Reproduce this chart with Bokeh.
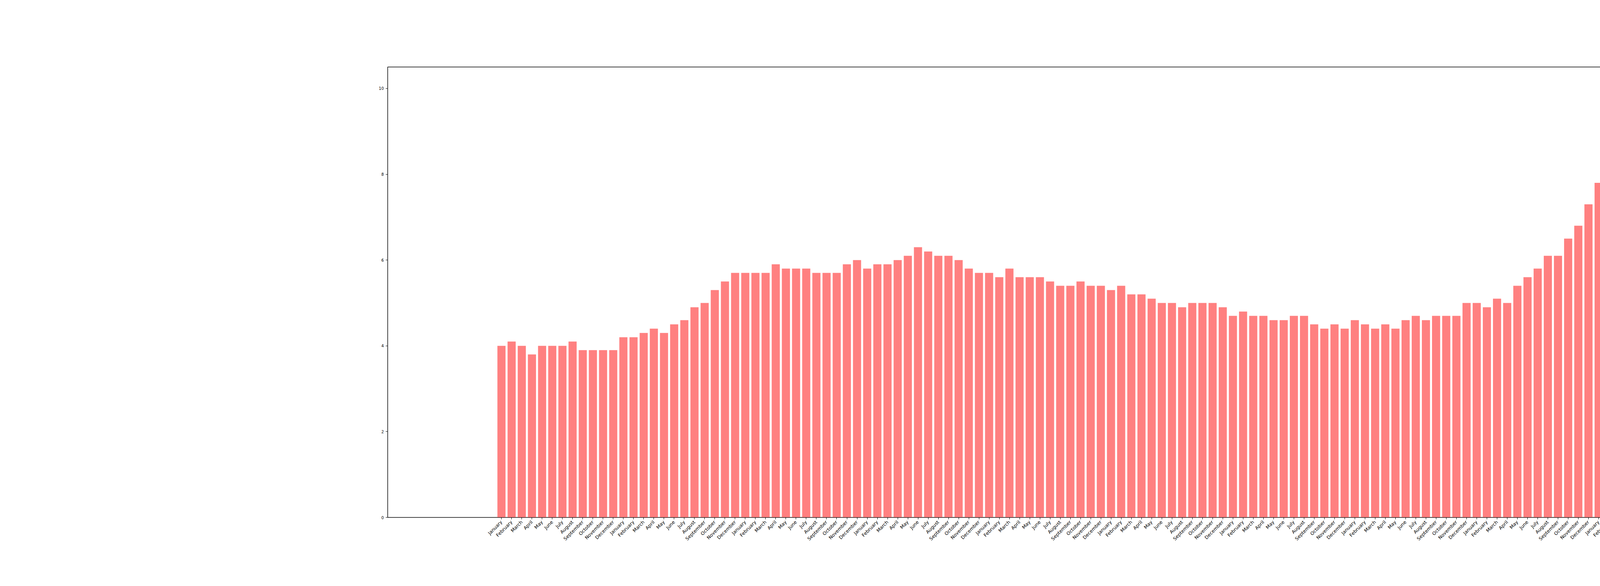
import math
from bokeh.plotting import figure
from bokeh.models import FixedTicker, Range1d
from bokeh.embed import file_html
from bokeh.resources import INLINE

months = ["January", "February", "March", "April", "May", "June", "July",
          "August", "September", "October", "November", "December"]

values = [
    4.0, 4.1, 4.0, 3.8, 4.0, 4.0, 4.0, 4.1, 3.9, 3.9, 3.9, 3.9,
    4.2, 4.2, 4.3, 4.4, 4.3, 4.5, 4.6, 4.9, 5.0, 5.3, 5.5, 5.7,
    5.7, 5.7, 5.7, 5.9, 5.8, 5.8, 5.8, 5.7, 5.7, 5.7, 5.9, 6.0,
    5.8, 5.9, 5.9, 6.0, 6.1, 6.3, 6.2, 6.1, 6.1, 6.0, 5.8, 5.7,
    5.7, 5.6, 5.8, 5.6, 5.6, 5.6, 5.5, 5.4, 5.4, 5.5, 5.4, 5.4,
    5.3, 5.4, 5.2, 5.2, 5.1, 5.0, 5.0, 4.9, 5.0, 5.0, 5.0, 4.9,
    4.7, 4.8, 4.7, 4.7, 4.6, 4.6, 4.7, 4.7, 4.5, 4.4, 4.5, 4.4,
    4.6, 4.5, 4.4, 4.5, 4.4, 4.6, 4.7, 4.6, 4.7, 4.7, 4.7, 5.0,
    5.0, 4.9, 5.1, 5.0, 5.4, 5.6, 5.8, 6.1, 6.1, 6.5, 6.8, 7.3,
    7.8, 8.3, 8.7, 9.0, 9.4, 9.5, 9.5, 9.6, 9.8, 10.0, 9.9, 9.9,
    9.8, 9.8, 9.9, 9.9, 9.6, 9.4, 9.4, 9.5, 9.5, 9.4, 9.8, 9.3,
    9.1, 9.0, 9.0, 9.1, 9.0, 9.1, 9.0, 9.0, 9.0, 8.8, 8.6, 8.5,
    8.3, 8.3, 8.2, 8.2, 8.2, 8.2, 8.2, 8.1, 7.8, 7.8, 7.7, 7.9,
    8.0, 7.7, 7.5, 7.6, 7.5, 7.5, 7.3, 7.2, 7.2, 7.2, 6.9, 6.7,
    6.6, 6.7, 6.7, 6.2, 6.3, 6.1, 6.2, 6.1, 5.9, 5.7, 5.8, 5.6,
    5.7, 5.5, 5.4, 5.4, 5.6, 5.3, 5.2, 5.1, 5.0, 5.0, 5.1, 5.0,
    4.8, 4.9, 5.0, 5.1, 4.8, 4.9, 4.8, 4.9, 5.0, 4.9, 4.7, 4.7,
    4.7, 4.6, 4.4, 4.4, 4.4, 4.3, 4.3, 4.4, 4.3, 4.2, 4.2, 4.1,
    4.0,
]

labels = [months[i % 12] for i in range(len(values))]
xs = list(range(len(values)))

p = figure(width=7984, height=1484, output_backend="svg", toolbar_location=None,
           x_range=Range1d(-11.2, 227.2), y_range=Range1d(0, 10.5),
           min_border_left=992, min_border_right=792, min_border_top=171,
           min_border_bottom=160)

p.vbar(x=xs, top=values, width=0.8, color="#ff8080", line_color=None)

p.xgrid.visible = False
p.ygrid.visible = False
p.outline_line_color = "black"
p.outline_line_width = 1.5

p.xaxis.ticker = FixedTicker(ticks=xs)
p.xaxis.major_label_overrides = {i: s for i, s in zip(xs, labels)}
p.xaxis.major_label_orientation = math.pi / 4
p.xaxis.major_label_text_font = "DejaVu Sans"
p.xaxis.major_label_text_font_size = "12px"
p.xaxis.minor_tick_line_color = None

p.yaxis.ticker = FixedTicker(ticks=[0, 2, 4, 6, 8, 10])
p.yaxis.major_label_text_font = "DejaVu Sans"
p.yaxis.major_label_text_font_size = "10px"
p.yaxis.minor_tick_line_color = None

for ax in (p.xaxis, p.yaxis):
    ax.axis_line_color = "black"
    ax.major_tick_line_color = "black"
    ax.major_tick_in = 0
    ax.major_tick_out = 5
    ax.major_label_text_color = "black"

open("out.html", "w").write(file_html(p, INLINE))
